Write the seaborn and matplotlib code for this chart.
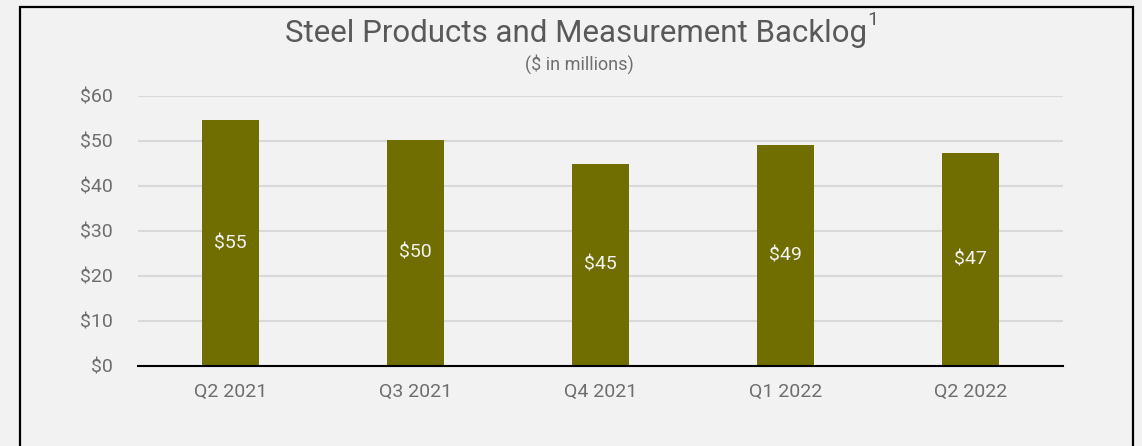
import matplotlib
matplotlib.use("Agg")
import matplotlib.pyplot as plt
import seaborn as sns
import pandas as pd
from matplotlib.patches import Rectangle

categories = ["Q2 2021", "Q3 2021", "Q4 2021", "Q1 2022", "Q2 2022"]
backlog = [54.6, 50.3, 44.9, 49.2, 47.3]
yticks = [0, 10, 20, 30, 40, 50, 60]
ytick_labels = ["$0", "$10", "$20", "$30", "$40", "$50", "$60"]

df = pd.DataFrame({"quarter": categories, "backlog": backlog})

sns.set_style("white")
plt.rcParams["font.family"] = ["Roboto", "DejaVu Sans"]

BG = "#f2f2f2"
TXT = "#595959"
TICK = "#6e6e6e"
BAR = "#706e00"

fig = plt.figure(figsize=(11.42, 4.46), dpi=100, facecolor=BG)
ax = fig.add_axes([0.1208, 0.1794, 0.81, 0.6054])
ax.set_facecolor(BG)

sns.barplot(data=df, x="quarter", y="backlog", color=BAR, width=0.31,
            saturation=1, linewidth=0, edgecolor=BAR, ax=ax, zorder=3)

ax.set_ylim(0, 60)
ax.set_yticks(yticks)
ax.set_yticklabels([s.replace("$", r"\$") for s in ytick_labels])
ax.grid(axis="y", color="#d9d9d9", linewidth=1.5, zorder=0)
ax.set_axisbelow(True)
for s in ["left", "right", "top"]:
    ax.spines[s].set_visible(False)
ax.spines["bottom"].set_color("black")
ax.spines["bottom"].set_linewidth(1.5)
ax.spines["bottom"].set_zorder(4)
ax.tick_params(axis="both", length=0, labelsize=14, labelcolor=TICK)
ax.tick_params(axis="x", pad=12)
ax.tick_params(axis="y", pad=18)
ax.set_xlabel("")
ax.set_ylabel("")

for c in ax.containers:
    ax.bar_label(c, labels=[r"\$" + f"{v:.0f}" for v in c.datavalues],
                 label_type="center", color="#f2f2f2", fontsize=14)

# Title
t = fig.text(0.504, 0.925, "Steel Products and Measurement Backlog", ha="center",
             va="center", fontsize=22.5, color=TXT)
fig.canvas.draw()
bb = t.get_window_extent(fig.canvas.get_renderer())
fig.text((bb.x1 + 1) / fig.bbox.width, 0.955, "1", ha="left", va="center",
         fontsize=14, color=TXT)
fig.text(0.507, 0.857, r"(\$ in millions)", ha="center", va="center",
         fontsize=13, color=TICK)

# Frame
fig.patches.append(Rectangle((20 / 1142, -0.05), (1133 - 20) / 1142, 1 - 7 / 446 + 0.05,
                             transform=fig.transFigure, fill=False,
                             edgecolor="black", linewidth=1.6))

fig.savefig("out.png", dpi=100, facecolor=BG)
